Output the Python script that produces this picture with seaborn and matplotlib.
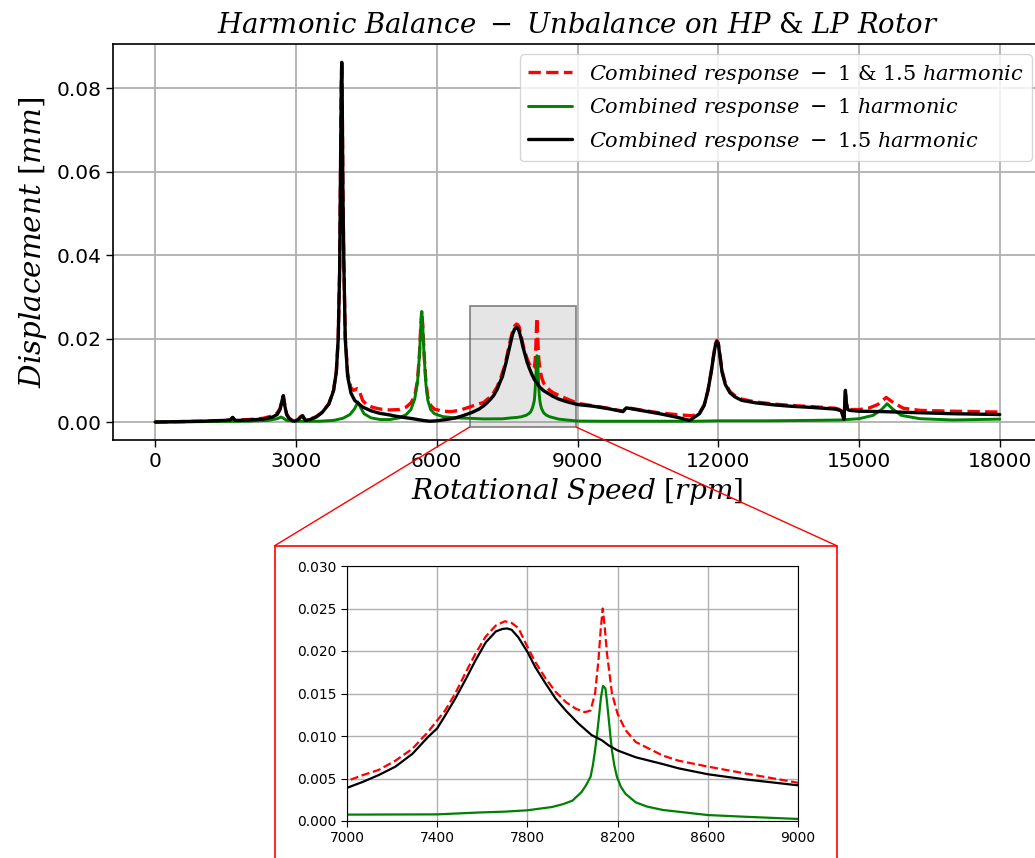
import numpy as np
import matplotlib
matplotlib.use("Agg")
import matplotlib.pyplot as plt
import seaborn as sns
from matplotlib.patches import Rectangle, ConnectionPatch

# ---------------- data ----------------
rpm_15 = [0, 500, 1000, 1500, 1600, 1650, 1700, 1800, 2000, 2300, 2500, 2600, 2660, 2700, 2730,
          2760, 2800, 2850, 2920, 2970, 3050, 3110, 3140, 3200, 3300, 3430, 3550, 3700, 3800,
          3860, 3900, 3930, 3950, 3965, 3975, 3985, 4000, 4020, 4050, 4100, 4170, 4250, 4420,
          4600, 4780, 5000, 5130, 5300, 5490, 5700, 5850, 6000, 6200, 6400, 6550, 6750, 6900,
          7000, 7070, 7140, 7215, 7290, 7360, 7400, 7435, 7480, 7525, 7570, 7615, 7660, 7690,
          7710, 7730, 7760, 7800, 7835, 7880, 7925, 7970, 8025, 8085, 8130, 8160, 8200, 8280,
          8400, 8470, 8600, 8765, 9000,
          9330, 9660, 9970, 10040, 10400, 10750, 11100, 11390, 11600, 11700, 11780, 11850,
          11900, 11940, 11970, 12000, 12040, 12080, 12150, 12250, 12360, 12500, 12800, 13200,
          13530, 14000, 14260, 14500, 14620, 14680, 14710, 14730, 14760, 14800, 15000, 15500,
          16080, 17000, 18000]
disp_15 = [0.0, 0.0001, 0.0002, 0.0004, 0.0005, 0.0011, 0.0004, 0.0004, 0.0005, 0.0007, 0.0012,
           0.0018, 0.0030, 0.0050, 0.0063, 0.0040, 0.0018, 0.0009, 0.0003, 0.0002, 0.0006,
           0.0013, 0.0015, 0.0004, 0.0006, 0.0012, 0.0022, 0.0043, 0.0075, 0.0120, 0.0200,
           0.0360, 0.0600, 0.0800, 0.0862, 0.0780, 0.0550, 0.0380, 0.0200, 0.0110, 0.0070,
           0.0052, 0.0036, 0.0027, 0.0021, 0.0017, 0.0014, 0.0011, 0.0008, 0.0004, 0.0002,
           0.0003, 0.0006, 0.0010, 0.0015, 0.0023, 0.0031,
           0.0039, 0.0046, 0.0054, 0.0064, 0.0079, 0.0099, 0.0109, 0.0124, 0.0144, 0.0166,
           0.0189, 0.0210, 0.0223, 0.0226, 0.02265, 0.0225, 0.0216, 0.0199, 0.0181, 0.0162,
           0.0144, 0.0130, 0.0115, 0.0101, 0.0095, 0.0089, 0.0083, 0.0075, 0.0067, 0.0062,
           0.0055, 0.0049, 0.0042,
           0.0038, 0.0032, 0.0025, 0.0034, 0.0027, 0.0020,
           0.0012, 0.0004, 0.0020, 0.0040, 0.0075, 0.0120, 0.0158, 0.0185, 0.0193, 0.0188,
           0.0155, 0.0120, 0.0090, 0.0070, 0.0060, 0.0052, 0.0046, 0.0041, 0.0038, 0.0035,
           0.0033, 0.0031, 0.0027, 0.0006, 0.0076, 0.0045, 0.0030, 0.0028, 0.0026, 0.0025,
           0.0023, 0.0020, 0.0018]

rpm_c = [0, 500, 1000, 1500, 1600, 1650, 1700, 2000, 2300, 2500, 2600, 2660, 2700, 2730, 2760,
         2800, 2850, 2920, 2970, 3050, 3110, 3140, 3200, 3300, 3430, 3550, 3700, 3800, 3860,
         3900, 3930, 3950, 3965, 3975, 3985, 4000, 4020, 4050, 4100, 4170, 4230, 4300, 4340,
         4420, 4500, 4640, 4800, 5000, 5200, 5350, 5450, 5530, 5590, 5630, 5660, 5680, 5700,
         5730, 5770, 5810, 5870, 5950, 6130, 6300, 6480, 6700, 6850,
         7000, 7070, 7140, 7215, 7290, 7360, 7435, 7480, 7525, 7570, 7615, 7660, 7700, 7730,
         7760, 7800, 7835, 7880, 7925, 7970, 8015, 8055, 8080, 8100, 8115, 8125, 8134, 8143,
         8153, 8175, 8200, 8235, 8280, 8400, 8470, 8600, 8765, 9000,
         9330, 9660,
         9970, 10040, 10400, 10750, 11100, 11450, 11600, 11700, 11780, 11850, 11900, 11940,
         11970, 12000, 12040, 12080, 12150, 12250, 12360, 12500, 12800, 13200, 13530, 14000,
         14260, 14500, 14620, 14680, 14710, 14730, 14760, 14800, 15000, 15200, 15400, 15580,
         15750, 15950, 16300, 17000, 18000]
disp_c = [0.0, 0.0001, 0.0002, 0.0004, 0.0005, 0.0011, 0.0005, 0.0006, 0.0009, 0.0015, 0.0022,
          0.0032, 0.0050, 0.0063, 0.0042, 0.0020, 0.0010, 0.0004, 0.0003, 0.0007, 0.0014,
          0.0015, 0.0005, 0.0007, 0.0013, 0.0023, 0.0044, 0.0076, 0.0121, 0.0201, 0.0361,
          0.0602, 0.0802, 0.0864, 0.0782, 0.0552, 0.0382, 0.0205, 0.0118, 0.0082, 0.0076,
          0.0080, 0.0078, 0.0052, 0.0042, 0.0035, 0.0031, 0.0029, 0.0030, 0.0036, 0.0046,
          0.0062, 0.0100, 0.0160, 0.0230, 0.0266, 0.0235, 0.0165, 0.0095, 0.0060, 0.0040,
          0.0031, 0.0026, 0.0025, 0.0028, 0.0036, 0.0042,
          0.0047, 0.0054, 0.0060, 0.0071, 0.0085, 0.0105, 0.0130, 0.0150, 0.0174, 0.0197,
          0.0217, 0.0230, 0.0235, 0.0233, 0.0227, 0.0205, 0.0187, 0.0168, 0.0152, 0.0140,
          0.0132, 0.0128, 0.0130, 0.0150, 0.0189, 0.0225, 0.0250, 0.0228, 0.0197, 0.0150,
          0.0126, 0.0107, 0.0093, 0.0077, 0.0071, 0.0064, 0.0056, 0.0045,
          0.0039, 0.0033,
          0.0026, 0.0035, 0.0028, 0.0022, 0.0018, 0.0015, 0.0022, 0.0041, 0.0076, 0.0121,
          0.0160, 0.0188,
          0.0196, 0.0190, 0.0158, 0.0123, 0.0093, 0.0073, 0.0063, 0.0055, 0.0048, 0.0043,
          0.0040, 0.0037, 0.0035, 0.0033, 0.0029, 0.0010, 0.0076, 0.0046, 0.0032, 0.0030,
          0.0030, 0.0033, 0.0042, 0.0059, 0.0045, 0.0033, 0.0028, 0.0026, 0.0024]

rpm_1 = [0, 1000, 2000, 2400, 2600, 2680, 2720, 2800, 3000, 3500, 3800, 4000, 4150, 4250, 4320,
         4380, 4450, 4600, 4800, 5000, 5200, 5350, 5450, 5530, 5590, 5630, 5660, 5680, 5700,
         5730, 5770, 5810, 5870, 5950, 6130, 6400, 6700,
         7000, 7400, 7585, 7700, 7800, 7910, 7960, 8000, 8040, 8060, 8080, 8090, 8100, 8108,
         8116, 8126, 8135, 8146, 8153, 8160, 8168, 8175, 8185, 8197, 8215, 8235, 8280, 8330,
         8400, 8600, 8765, 9000,
         9500, 10500, 11500, 12000, 13000, 14000,
         14600, 15000, 15300, 15480, 15600, 15720, 15900, 16300, 17000, 18000]
disp_1 = [0.0, 0.0001, 0.0002, 0.0004, 0.0008, 0.0012, 0.0010, 0.0004, 0.0002, 0.0002, 0.0004,
          0.0009, 0.0018, 0.0032, 0.0048, 0.0034, 0.0020, 0.0010, 0.0006, 0.0006, 0.0010,
          0.0018, 0.0030, 0.0055, 0.0095, 0.0158, 0.0228, 0.0265, 0.0233, 0.0160, 0.0090,
          0.0052, 0.0030, 0.0020, 0.0013, 0.0010, 0.0009,
          0.00075, 0.00078, 0.0010, 0.0011, 0.00126, 0.00165, 0.0020, 0.0024, 0.0034, 0.0042,
          0.0052, 0.0065, 0.0083, 0.0100, 0.0119, 0.0145, 0.0159, 0.0156, 0.0140, 0.0122,
          0.0100, 0.0083, 0.0066, 0.0052, 0.0040, 0.0032, 0.0022, 0.0017, 0.0013, 0.0007,
          0.0005, 0.00024,
          0.0002, 0.0002, 0.0002, 0.0003, 0.0003, 0.0004,
          0.0005, 0.0008, 0.0016, 0.0030, 0.0044, 0.0031, 0.0016, 0.0008, 0.0005, 0.0007]

labels = [r'$Combined\ response\ -\ 1\ &\ 1.5\ harmonic$',
          r'$Combined\ response\ -\ 1\ harmonic$',
          r'$Combined\ response\ -\ 1.5\ harmonic$']
title = r'$Harmonic\ Balance\ -\ Unbalance\ on\ HP\ &\ LP\ Rotor$'
xlabel = r'$Rotational\ Speed\ [rpm]$'
ylabel = r'$Displacement\ [mm]$'
main_xticks = [0, 3000, 6000, 9000, 12000, 15000, 18000]
main_yticks = [0.0, 0.02, 0.04, 0.06, 0.08]
inset_xticks = [7000, 7400, 7800, 8200, 8600, 9000]
inset_yticks = [0.0, 0.005, 0.010, 0.015, 0.020, 0.025, 0.030]

# ---------------- style ----------------
sns.set_style("ticks")
plt.rcParams['font.family'] = ['DejaVu Sans']
plt.rcParams['mathtext.fontset'] = 'dejavuserif'
for k in ['text.color', 'axes.labelcolor', 'xtick.color', 'ytick.color', 'axes.edgecolor']:
    plt.rcParams[k] = 'black'

W, H = 1035, 858
fig = plt.figure(figsize=(W / 100, H / 100), dpi=100)

def fx(px):
    return px / W

def fy(py):
    return 1 - py / H

ax = fig.add_axes([fx(113), fy(440), fx(1042 - 113), (440 - 44) / H])

series = [(rpm_c, disp_c, 'red', '--'), (rpm_1, disp_1, 'green', '-'), (rpm_15, disp_15, 'black', '-')]
for (xs, ys, c, ls), lab in zip(series, labels):
    sns.lineplot(x=xs, y=ys, ax=ax, color=c, linestyle=ls, linewidth=2.4 if c != 'green' else 2.1,
                 label=lab, errorbar=None, sort=False)

ax.set_xlim(-900, 18900)
ax.set_ylim(-0.0043, 0.0906)
ax.set_xticks(main_xticks)
ax.set_yticks(main_yticks)
ax.grid(True, color='#b0b0b0', linewidth=1.3)
ax.tick_params(labelsize=14.5, length=5, width=1)
for s in ax.spines.values():
    s.set_linewidth(1.2)
ax.set_title(title, fontsize=19.8, pad=8)
ax.set_xlabel(xlabel, fontsize=20.2, labelpad=4)
ax.set_ylabel(ylabel, fontsize=21.2, labelpad=5)
leg = ax.legend(loc='upper right', fontsize=15, framealpha=0.8, handlelength=2.1)

rect = Rectangle((6700, -0.0012), 2270, 0.029, facecolor=(0.5, 0.5, 0.5, 0.2),
                 edgecolor=(0.35, 0.35, 0.35, 0.7), linewidth=1.3, zorder=1.8)
ax.add_patch(rect)

# ---------------- inset ----------------
axi = fig.add_axes([fx(347), fy(821), fx(798 - 347), (821 - 566) / H])
for (xs, ys, c, ls) in series:
    sns.lineplot(x=xs, y=ys, ax=axi, color=c, linestyle=ls, linewidth=1.6,
                 errorbar=None, sort=False, legend=False)
axi.set_xlim(7000, 9000)
axi.set_ylim(0, 0.030)
axi.set_xticks(inset_xticks)
axi.set_yticks(inset_yticks)
axi.grid(True, color='#b0b0b0', linewidth=1.0)
axi.tick_params(labelsize=10, length=4)

# red frame around the inset
frame = Rectangle((fx(274.7), fy(875)), fx(836.7 - 274.7), (875 - 545.7) / H,
                  transform=fig.transFigure, fill=False, edgecolor='red', linewidth=1.2,
                  clip_on=False)
fig.add_artist(frame)

for xd, px in [(6700, 274.7), (8970, 836.7)]:
    con = ConnectionPatch(xyA=(xd, -0.0012), coordsA=ax.transData,
                          xyB=(fx(px), fy(545.7)), coordsB=fig.transFigure,
                          color='red', linewidth=1.0)
    fig.add_artist(con)

fig.savefig('out.png', dpi=100)
